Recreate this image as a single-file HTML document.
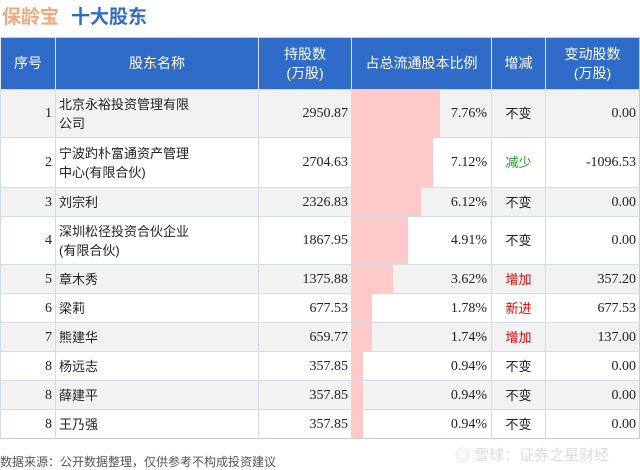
<!DOCTYPE html>
<html><head><meta charset="utf-8"><style>
body{margin:0;width:640px;height:470px;background:#fff;font-family:"Liberation Sans","Noto Sans CJK SC",sans-serif;position:relative;overflow:hidden}
.t1{position:absolute;left:2px;top:2px;font-size:19px;font-weight:bold;color:#f5a77a}
.t2{position:absolute;left:71px;top:2px;font-size:19px;font-weight:bold;color:#2f6bc9}
table{position:absolute;left:0;top:37px;border-collapse:collapse;width:639px;table-layout:fixed;border:1px solid #c8ccd2}
th{background:#2f6bc9;color:#fff;font-weight:normal;font-size:14px;height:51px;border-left:1px solid #e6e6e6;line-height:19px;padding:0}
td{font-size:13px;color:#222;border-left:1px solid #d4dbe6;border-top:1px solid #d4dbe6;padding:0 3px;line-height:19px}
tr.g td{background:#f2f2f2}
.n{text-align:right;font-family:"Liberation Serif","Noto Sans CJK SC",serif;font-size:14px}
.p{position:relative;padding:0}
.p div{position:absolute;left:0;top:0;bottom:0;background:#ffc9c9}
.p span{position:relative;display:block;text-align:right;padding-right:4px;font-family:"Liberation Serif",serif;font-size:14px}
.c{text-align:center}
.red{color:#e00}.grn{color:#1a9a2a}
.f{position:absolute;left:0;top:453px;font-size:12px;color:#555}
.w{position:absolute;left:455px;top:444px;font-size:15px;color:#ddd}
</style></head><body>
<div class="t1">保龄宝</div><div class="t2">十大股东</div>
<table>
<colgroup><col style="width:55px"><col style="width:203px"><col style="width:93px"><col style="width:140px"><col style="width:54px"><col style="width:94px"></colgroup>
<tr><th>序号</th><th>股东名称</th><th>持股数<br>(万股)</th><th>占总流通股本比例</th><th>增减</th><th>变动股数<br>(万股)</th></tr>
<tr class="g" style="height:48px"><td class="n">1</td><td>北京永裕投资管理有限<br>公司</td><td class="n">2950.87</td><td class="p"><div style="width:88px"></div><span>7.76%</span></td><td class="c">不变</td><td class="n">0.00</td></tr>
<tr style="height:50px"><td class="n">2</td><td>宁波趵朴富通资产管理<br>中心(有限合伙)</td><td class="n">2704.63</td><td class="p"><div style="width:81px"></div><span>7.12%</span></td><td class="c grn">减少</td><td class="n">-1096.53</td></tr>
<tr class="g" style="height:29px"><td class="n">3</td><td>刘宗利</td><td class="n">2326.83</td><td class="p"><div style="width:69px"></div><span>6.12%</span></td><td class="c">不变</td><td class="n">0.00</td></tr>
<tr style="height:48px"><td class="n">4</td><td>深圳松径投资合伙企业<br>(有限合伙)</td><td class="n">1867.95</td><td class="p"><div style="width:56px"></div><span>4.91%</span></td><td class="c">不变</td><td class="n">0.00</td></tr>
<tr class="g" style="height:29px"><td class="n">5</td><td>章木秀</td><td class="n">1375.88</td><td class="p"><div style="width:41px"></div><span>3.62%</span></td><td class="c red">增加</td><td class="n">357.20</td></tr>
<tr style="height:29px"><td class="n">6</td><td>梁莉</td><td class="n">677.53</td><td class="p"><div style="width:20px"></div><span>1.78%</span></td><td class="c red">新进</td><td class="n">677.53</td></tr>
<tr class="g" style="height:29px"><td class="n">7</td><td>熊建华</td><td class="n">659.77</td><td class="p"><div style="width:20px"></div><span>1.74%</span></td><td class="c red">增加</td><td class="n">137.00</td></tr>
<tr style="height:29px"><td class="n">8</td><td>杨远志</td><td class="n">357.85</td><td class="p"><div style="width:11px"></div><span>0.94%</span></td><td class="c">不变</td><td class="n">0.00</td></tr>
<tr class="g" style="height:29px"><td class="n">8</td><td>薛建平</td><td class="n">357.85</td><td class="p"><div style="width:11px"></div><span>0.94%</span></td><td class="c">不变</td><td class="n">0.00</td></tr>
<tr style="height:29px"><td class="n">8</td><td>王乃强</td><td class="n">357.85</td><td class="p"><div style="width:11px"></div><span>0.94%</span></td><td class="c">不变</td><td class="n">0.00</td></tr>
</table>
<div class="w">◎ 雪球：证券之星财经</div>
<div class="f">数据来源：公开数据整理，仅供参考不构成投资建议</div>
</body></html>
